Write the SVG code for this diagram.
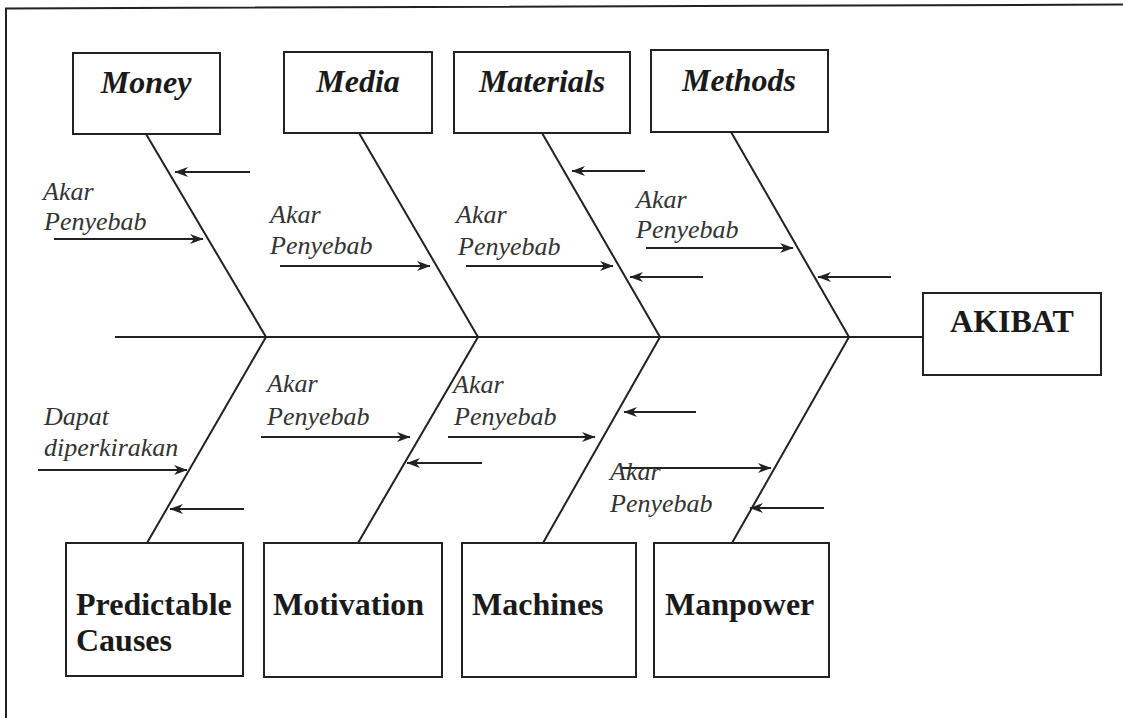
<svg xmlns="http://www.w3.org/2000/svg" width="1123" height="718" viewBox="0 0 1123 718">
<style>
.box{fill:#fff;stroke:#222;stroke-width:2}
.title{font-family:"Liberation Serif",serif;font-size:32px;font-weight:bold;font-style:italic;fill:#1a1a1a;text-anchor:middle}
.btitle{font-family:"Liberation Serif",serif;font-size:32px;font-weight:bold;fill:#1a1a1a}
.lbl{font-family:"Liberation Serif",serif;font-size:26px;font-style:italic;fill:#333}
.ln{stroke:#222;stroke-width:2;fill:none}
.ar{stroke:#222;stroke-width:2;fill:none;marker-end:url(#ah)}
</style>
<defs>
<marker id="ah" viewBox="0 0 14 12" markerWidth="14" markerHeight="12" refX="13" refY="6" orient="auto" markerUnits="userSpaceOnUse">
<path d="M0,1 L13.5,6 L0,11 L4,6 z" fill="#222"/>
</marker>
</defs>
<rect width="1123" height="718" fill="#fff"/>
<g id="frame">
<polyline class="ln" points="6,718 6,8.5 1123,4.5"/>
</g>
<g id="connectors">
<line class="ln" x1="115" y1="337" x2="923" y2="337"/>
<polyline class="ln" points="146,134 266,337 147,543"/>
<polyline class="ln" points="359,133 478,337 358,543"/>
<polyline class="ln" points="542,133 660,337 543,543"/>
<polyline class="ln" points="731,132 849,337 732,543"/>
<line class="ar" x1="250" y1="172" x2="175" y2="172"/>
<line class="ar" x1="54" y1="239" x2="203" y2="239"/>
<line class="ar" x1="280" y1="266" x2="430" y2="266"/>
<line class="ar" x1="466" y1="266" x2="613" y2="266"/>
<line class="ar" x1="645" y1="171" x2="572" y2="171"/>
<line class="ar" x1="703" y1="277" x2="630" y2="277"/>
<line class="ar" x1="646" y1="248" x2="793" y2="248"/>
<line class="ar" x1="891" y1="277" x2="818" y2="277"/>
<line class="ar" x1="38" y1="470" x2="187" y2="470"/>
<line class="ar" x1="244" y1="509" x2="170" y2="509"/>
<line class="ar" x1="261" y1="437" x2="410" y2="437"/>
<line class="ar" x1="482" y1="463" x2="407" y2="463"/>
<line class="ar" x1="448" y1="437" x2="595" y2="437"/>
<line class="ar" x1="696" y1="412" x2="624" y2="412"/>
<line class="ar" x1="622" y1="468" x2="771" y2="468"/>
<line class="ar" x1="824" y1="508" x2="750" y2="508"/>
</g>
<g id="labels">
<text class="lbl" x="43" y="200">Akar</text>
<text class="lbl" x="44" y="230">Penyebab</text>
<text class="lbl" x="270" y="223">Akar</text>
<text class="lbl" x="270" y="254">Penyebab</text>
<text class="lbl" x="456" y="223">Akar</text>
<text class="lbl" x="458" y="255">Penyebab</text>
<text class="lbl" x="636" y="208">Akar</text>
<text class="lbl" x="636" y="238">Penyebab</text>
<text class="lbl" x="44" y="425">Dapat</text>
<text class="lbl" x="44" y="456">diperkirakan</text>
<text class="lbl" x="267" y="392">Akar</text>
<text class="lbl" x="267" y="425">Penyebab</text>
<text class="lbl" x="453" y="393">Akar</text>
<text class="lbl" x="454" y="425">Penyebab</text>
<text class="lbl" x="610" y="480">Akar</text>
<text class="lbl" x="610" y="512">Penyebab</text>
</g>
<g id="money"><rect class="box" x="73" y="53" width="147" height="81"/><text class="title" x="146" y="93">Money</text></g>
<g id="media"><rect class="box" x="284" y="52" width="148" height="81"/><text class="title" x="358" y="92">Media</text></g>
<g id="materials"><rect class="box" x="454" y="52" width="176" height="81"/><text class="title" x="542" y="92">Materials</text></g>
<g id="methods"><rect class="box" x="651" y="50" width="177" height="82"/><text class="title" x="739" y="91">Methods</text></g>
<g id="akibat"><rect class="box" x="923" y="293" width="178" height="82"/><text class="btitle" x="1012" y="332" text-anchor="middle">AKIBAT</text></g>
<g id="predictable-causes"><rect class="box" x="66" y="543" width="177" height="133"/><text class="btitle" x="76" y="615">Predictable</text><text class="btitle" x="76" y="651">Causes</text></g>
<g id="motivation"><rect class="box" x="264" y="543" width="178" height="134"/><text class="btitle" x="273" y="615">Motivation</text></g>
<g id="machines"><rect class="box" x="462" y="543" width="174" height="134"/><text class="btitle" x="472" y="615">Machines</text></g>
<g id="manpower"><rect class="box" x="654" y="543" width="175" height="134"/><text class="btitle" x="665" y="615">Manpower</text></g>
</svg>
